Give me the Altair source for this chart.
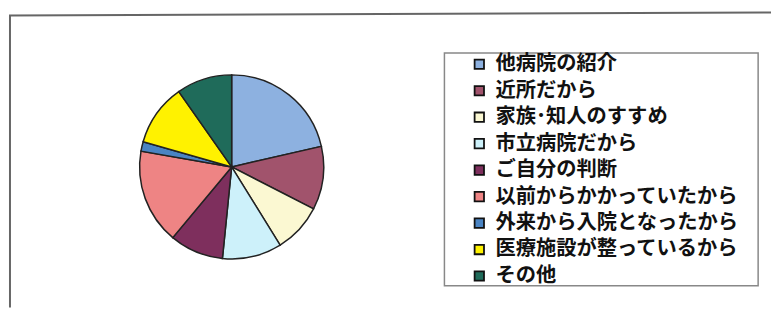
import altair as alt
import pandas as pd

# Data (slice sizes, in degrees of the pie)
categories = ["他病院の紹介", "近所だから", "家族･知人のすすめ", "市立病院だから",
              "ご自分の判断", "以前からかかっていたから", "外来から入院となったから",
              "医療施設が整っているから", "その他"]
values = [77, 40, 31, 37.5, 34, 60, 6, 39, 35]
colors = ["#8DB1E0", "#A1536C", "#FBF8D2", "#CDF1FA", "#7E2F5D",
          "#EE8484", "#4A84C3", "#FFF200", "#1F6B5A"]

df = pd.DataFrame({"cat": categories, "val": values, "idx": list(range(len(categories)))})
one = pd.DataFrame({"a": [0]})

W, H = 771, 301

frame_top = alt.Chart(one).mark_rule(color="#666666", strokeWidth=2).encode(
    x=alt.value(0), x2=alt.value(W), y=alt.value(6), y2=alt.value(3))
frame_left = alt.Chart(one).mark_rule(color="#666666", strokeWidth=2).encode(
    x=alt.value(1), x2=alt.value(1), y=alt.value(6), y2=alt.value(H))

legend_box = alt.Chart(one).mark_rect(fill="white", stroke="#888888", strokeWidth=1.5).encode(
    x=alt.value(440), x2=alt.value(757), y=alt.value(44), y2=alt.value(279))

pie = alt.Chart(df).mark_arc(radius=93, stroke="#222222", strokeWidth=1.5).encode(
    theta=alt.Theta("val:Q", stack=True),
    order=alt.Order("idx:Q"),
    color=alt.Color("cat:N", sort=categories,
                    scale=alt.Scale(domain=categories, range=colors),
                    legend=alt.Legend(title=None, orient="none", legendX=465, legendY=45,
                                      symbolType="square", symbolSize=90,
                                      symbolStrokeColor="#111111", symbolStrokeWidth=1.8,
                                      labelFont="Noto Sans CJK JP", labelFontSize=20.5,
                                      labelFontWeight="bold", labelColor="#111111",
                                      labelOffset=6, rowPadding=5.75, labelLimit=400)),
    x=alt.value(225), y=alt.value(159),
)

chart = alt.layer(frame_top, frame_left, legend_box, pie).properties(
    width=W, height=H,
    autosize=alt.AutoSizeParams(type="fit", contains="padding"),
    padding=0,
).configure_view(stroke=None)

chart.save("out.html", embed_options={"renderer": "svg", "actions": False})
